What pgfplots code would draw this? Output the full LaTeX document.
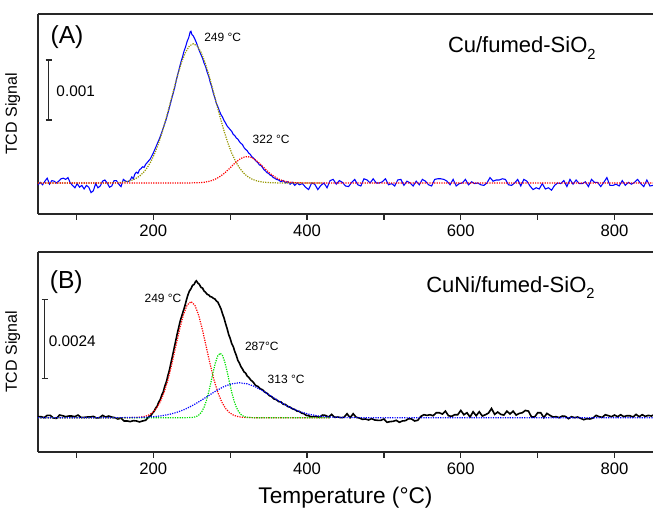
\documentclass[border=0pt]{standalone}
\usepackage{pgfplots}
\pgfplotsset{compat=1.18}
\usepackage{fontspec}
\setmainfont{Liberation Sans}
\definecolor{olivefit}{RGB}{150,150,0}
\definecolor{greenfit}{RGB}{0,225,0}
\definecolor{axgray}{RGB}{40,40,40}
\tikzset{fitline/.style={dash pattern=on 0.9pt off 0.9pt, line width=0.9pt},
small lbl/.style={anchor=west, inner sep=0pt, font=\fontsize{9}{10}\selectfont}}
\pgfplotsset{panel/.style={
  scale only axis, width=461.25pt, height=150pt,
  xmin=50, xmax=850,
  axis x line*=box, axis y line*=left,
  xtick={200,400,600,800}, minor xtick={100,300,500,700},
  xtick pos=bottom, xtick align=outside,
  major tick length=4.5pt, minor tick length=4.5pt,
  ytick=\empty,
  tick style={axgray, line width=0.9pt},
  axis line style={axgray, line width=1.1pt},
  /pgf/number format/assume math mode=true,
  ticklabel style={font=\fontsize{12.5}{13}\selectfont},
  ylabel={TCD Signal},
  ylabel style={at={(axis description cs:-0.041,0.5)}, anchor=center, font=\fontsize{12}{13}\selectfont},
}}
\begin{document}
\begin{tikzpicture}
% ---------------- Panel A ----------------
\begin{axis}[panel, at={(0pt,178.5pt)}, anchor=south west, ymin=-0.517, ymax=2.817]
\addplot[blue, line width=0.8pt] coordinates {
(50,-0.03)(53,0.01)(56,-0.03)(59,0.03)(62,0.08)(65,-0.02)(68,0.04)(71,0.03)(74,0.00)(77,0.03)
(80,0.07)(83,0.08)(86,0.06)(89,0.09)(92,0.00)(95,-0.04)(98,-0.08)(101,-0.01)(104,-0.07)(107,-0.04)
(110,-0.10)(113,-0.04)(116,-0.07)(119,-0.16)(122,-0.13)(125,-0.01)(128,-0.08)(131,-0.05)(134,0.03)(137,0.05)
(140,0.00)(143,-0.07)(146,-0.05)(149,0.04)(152,0.04)(155,-0.02)(158,-0.06)(161,0.06)(164,0.03)
(167,0.02)(170,0.05)(172,0.10)(174,0.07)(176,0.15)(178,0.18)(180,0.16)(182,0.22)(184,0.24)(186,0.27)
(188,0.26)(190,0.31)(192,0.34)(194,0.37)(196,0.40)(198,0.45)(200,0.50)(202,0.56)(204,0.62)(206,0.68)
(208,0.74)(210,0.81)(212,0.88)(214,0.96)(216,1.03)(218,1.12)(220,1.21)(222,1.31)(224,1.41)(226,1.50)
(228,1.60)(230,1.72)(232,1.82)(234,1.92)(236,2.02)(238,2.10)(240,2.20)(242,2.27)(244,2.36)(246,2.42)
(248,2.52)(249,2.53)(250,2.48)(252,2.45)(254,2.40)(256,2.34)(258,2.27)(260,2.20)(262,2.14)(264,2.08)
(266,2.00)(268,1.94)(270,1.85)(272,1.78)(274,1.68)(276,1.60)(278,1.50)(280,1.42)(282,1.33)(284,1.27)
(286,1.20)(288,1.14)(290,1.10)(292,1.04)(294,1.00)(296,0.95)(298,0.92)(300,0.89)(302,0.86)(304,0.81)
(306,0.79)(308,0.75)(310,0.73)(312,0.69)(314,0.66)(316,0.64)(318,0.59)(320,0.56)(322,0.54)(324,0.50)
(326,0.48)(328,0.44)(330,0.42)(332,0.39)(334,0.36)(336,0.34)(338,0.30)(340,0.29)(342,0.26)(344,0.22)
(346,0.20)(348,0.17)(350,0.16)(352,0.13)(354,0.12)(356,0.09)(358,0.08)(360,0.06)(363,0.05)(366,0.02)
(369,0.04)(372,0.00)(375,0.02)(378,-0.02)(381,0.01)(384,-0.04)(387,0.00)(390,-0.03)
(394,-0.01)(398,-0.07)(402,-0.11)(406,0.00)(410,-0.02)(414,-0.11)(418,-0.04)(422,0.00)(426,-0.08)(430,0.04)
(434,0.06)(438,-0.02)(442,0.04)(446,0.01)(450,-0.05)(454,-0.06)(458,0.01)(462,0.06)(466,-0.03)(470,-0.05)
(474,0.07)(478,0.05)(482,0.00)(486,0.07)(490,0.00)(494,0.00)(498,0.02)(502,0.07)(506,-0.03)(510,-0.01)
(514,-0.05)(518,0.05)(522,0.06)(526,-0.04)(530,0.03)(534,0.00)(538,-0.05)(542,0.03)(546,-0.03)(550,0.06)
(554,0.03)(558,-0.03)(562,-0.05)(566,0.06)(570,0.07)(574,0.07)(578,0.06)(582,0.03)(586,-0.03)(590,0.06)
(594,-0.05)(598,-0.01)(602,0.00)(606,0.06)(610,-0.03)(614,0.02)(618,-0.01)(622,0.00)(626,-0.03)(630,-0.04)
(634,0.00)(638,0.09)(642,0.03)(646,0.05)(650,0.05)(654,0.07)(658,0.06)(662,-0.03)(666,-0.04)(670,0.00)
(674,0.06)(678,-0.05)(682,0.06)(686,0.03)(690,-0.05)(694,-0.11)(698,-0.08)(702,-0.10)(706,-0.01)(710,-0.10)
(714,-0.08)(718,-0.12)(722,-0.04)(726,0.00)(730,-0.01)(734,0.04)(738,-0.06)(742,0.06)(746,-0.02)(750,0.05)
(754,-0.01)(758,-0.01)(762,0.02)(766,-0.06)(770,0.06)(774,0.01)(778,0.01)(782,-0.06)(786,0.01)(790,0.09)
(794,-0.04)(798,-0.04)(802,-0.02)(806,-0.05)(810,0.04)(814,-0.04)(818,0.01)(822,-0.02)(826,0.01)(830,0.06)
(834,-0.01)(838,-0.06)(842,0.05)(846,-0.05)(850,-0.04)};
\addplot[olivefit, fitline] coordinates {
(50,0)(142,0.001)(152,0.005)(157,0.009)(162,0.016)(167,0.027)(172,0.045)(177,0.073)(182,0.114)(187,0.172)
(192,0.253)(197,0.360)(202,0.498)(207,0.667)(212,0.866)(217,1.092)(222,1.333)(227,1.579)(232,1.814)(237,2.020)
(242,2.182)(247,2.285)(252,2.320)(257,2.285)(262,2.182)(267,2.020)(272,1.814)(277,1.579)(282,1.333)(287,1.092)
(292,0.866)(297,0.667)(302,0.498)(307,0.360)(312,0.253)(317,0.172)(322,0.114)(327,0.073)(332,0.045)(337,0.027)
(342,0.016)(347,0.009)(352,0.005)(362,0.001)(420,0)};
\addplot[red, fitline] coordinates {
(50,0)(242,0)(252,0.002)(257,0.004)(262,0.007)(267,0.014)(272,0.026)(277,0.044)(282,0.072)(287,0.110)
(292,0.158)(297,0.216)(302,0.279)(307,0.341)(312,0.393)(317,0.428)(322,0.440)(327,0.428)(332,0.393)(337,0.341)
(342,0.279)(347,0.216)(352,0.158)(357,0.110)(362,0.072)(367,0.044)(372,0.026)(377,0.014)(382,0.007)(387,0.004)
(392,0.002)(402,0)(850,0)};
% scale bar
\addplot[axgray, line width=0.9pt] coordinates {(64.1,1.05)(64.1,2.05)};
\addplot[axgray, line width=0.9pt] coordinates {(60,1.05)(68.2,1.05)};
\addplot[axgray, line width=0.9pt] coordinates {(60,2.05)(68.2,2.05)};
\node[anchor=west, inner sep=0pt, font=\fontsize{11.5}{12}\selectfont] at (axis cs:73.7,1.53) {0.001};
\node[anchor=west, inner sep=0pt, font=\fontsize{18.5}{19}\selectfont] at (axis cs:66,2.43) {(A)};
\node[small lbl] at (axis cs:266,2.43) {249 °C};
\node[small lbl] at (axis cs:329,0.72) {322 °C};
\node[anchor=base west, inner sep=0pt, font=\fontsize{16.5}{17}\selectfont] at (axis cs:583,2.17) {Cu/fumed-SiO\raisebox{-0.3em}{\fontsize{11}{11}\selectfont 2}};
\end{axis}
% ---------------- Panel B ----------------
\begin{axis}[panel, at={(0pt,0pt)}, anchor=south west, ymin=-1.043, ymax=5.036,
  xlabel={Temperature (°C)},
  xlabel style={at={(axis description cs:0.5,-0.228)}, anchor=center, font=\fontsize{17}{18}\selectfont}]
\addplot[black, line width=1.2pt] coordinates {
(50,0.03)(54,0.03)(58,0.00)(62,0.07)(66,0.07)(70,-0.01)(74,-0.02)(78,0.08)(82,0.06)(86,0.03)
(90,0.05)(94,0.05)(98,0.03)(102,0.08)(106,0.01)(110,0.01)(114,0.02)(118,0.02)(122,0.04)(126,-0.01)
(130,0.00)(134,0.07)(138,0.02)(142,0.05)(146,0.02)(150,0.00)(154,-0.04)(158,-0.01)(162,-0.10)(166,-0.10)
(170,-0.12)(174,-0.09)(178,-0.10)(182,-0.13)(186,-0.10)(190,-0.08)
(193,0.00)(195,0.04)(197,0.07)(199,0.14)(201,0.19)(203,0.29)(205,0.35)(207,0.47)(209,0.55)(211,0.69)
(213,0.79)(215,0.96)(217,1.09)(219,1.28)(221,1.45)(223,1.67)(225,1.88)(227,2.10)(229,2.32)(231,2.54)
(233,2.74)(235,2.94)(237,3.09)(239,3.24)(241,3.39)(243,3.57)(245,3.73)(247,3.85)(249,3.92)(251,4.02)
(253,4.05)(255,4.14)(256,4.16)(258,4.09)(260,4.05)(262,3.96)(264,3.94)(266,3.85)(268,3.81)(270,3.75)
(272,3.73)(274,3.68)(276,3.67)(278,3.63)(280,3.61)(282,3.55)(284,3.51)(286,3.41)(288,3.31)(290,3.16)
(292,3.03)(294,2.86)(296,2.71)(298,2.53)(300,2.41)(302,2.25)(304,2.16)(306,2.01)(308,1.89)(310,1.74)
(312,1.66)(314,1.55)(316,1.48)(318,1.39)(320,1.36)(322,1.27)(324,1.23)(327,1.14)(330,1.08)(333,0.98)
(336,0.95)(339,0.88)(342,0.85)(345,0.78)(348,0.74)(351,0.67)(354,0.64)(357,0.57)(360,0.55)(363,0.49)
(366,0.48)(369,0.41)(372,0.40)(375,0.34)(378,0.32)(381,0.27)(384,0.25)(387,0.20)(390,0.19)(393,0.14)
(396,0.12)(399,0.07)(402,0.06)(405,0.03)(408,0.03)
(412,0.04)(416,0.01)(420,0.08)(424,0.07)(428,0.02)(432,0.10)(436,0.01)(440,0.02)(444,0.00)(448,0.01)
(452,0.12)(456,0.00)(460,0.12)(464,0.01)(468,-0.01)(472,-0.05)(476,-0.04)(480,-0.07)(484,-0.03)(488,-0.07)
(492,-0.08)(496,-0.08)(500,-0.04)(504,-0.14)(508,-0.12)(512,-0.11)(516,-0.08)(520,-0.14)(524,-0.10)(528,-0.09)
(532,-0.03)(536,-0.04)(540,-0.10)(544,-0.08)(548,0.04)(552,0.09)(556,0.07)(560,0.09)(564,0.06)(568,0.15)
(572,0.15)(576,0.11)(580,0.20)(584,0.06)(588,0.04)(592,0.09)(596,0.09)(600,0.22)(604,0.09)(608,0.15)
(612,0.02)(616,0.18)(620,0.06)(624,0.18)(628,0.05)(632,0.09)(636,0.14)(640,0.28)(644,0.10)(648,0.17)
(652,0.10)(656,0.08)(660,0.20)(664,0.11)(668,0.20)(672,0.08)(676,0.13)(680,0.15)(684,0.22)(688,0.20)
(692,0.02)(696,0.02)(700,0.15)(704,0.15)(708,0.00)(712,0.13)(716,0.07)(720,0.02)(724,0.03)(728,0.00)
(732,0.05)(736,0.04)(740,-0.03)(744,0.03)(748,0.00)(752,0.02)(756,-0.02)(760,-0.06)(764,-0.03)(768,-0.04)
(772,-0.01)(776,0.07)(780,0.03)(784,0.01)(788,0.09)(792,0.06)(796,0.03)(800,0.08)(804,0.03)(808,0.09)
(812,0.03)(816,0.06)(820,0.06)(824,0.02)(828,0.10)(832,0.03)(836,0.09)(840,0.04)(844,0.07)(848,0.05)(850,0.08)};
\addplot[red, fitline] coordinates {
(50,0)(169,0.001)(179,0.008)(184,0.018)(189,0.039)(194,0.080)(199,0.155)(204,0.281)(209,0.478)(214,0.764)
(219,1.146)(224,1.616)(229,2.141)(234,2.664)(239,3.115)(244,3.421)(249,3.530)(254,3.421)(259,3.115)(264,2.664)
(269,2.141)(274,1.616)(279,1.146)(284,0.764)(289,0.478)(294,0.281)(299,0.155)(304,0.080)(309,0.039)(314,0.018)
(319,0.008)(329,0.001)(430,0)};
\addplot[greenfit, fitline] coordinates {
(50,0)(242,0)(247,0.003)(251,0.009)(254,0.022)(257,0.048)(260,0.096)(263,0.181)(266,0.317)(269,0.514)
(272,0.774)(275,1.081)(278,1.403)(281,1.690)(284,1.888)(287,1.960)(290,1.888)(293,1.690)(296,1.403)(299,1.081)
(302,0.774)(305,0.514)(308,0.317)(311,0.181)(314,0.096)(317,0.048)(320,0.022)(323,0.009)(327,0.003)(332,0)(430,0)};
\addplot[blue, fitline] coordinates {
(50,0)(152,0.001)(172,0.004)(182,0.009)(192,0.018)(202,0.034)(212,0.062)(222,0.107)(232,0.173)(242,0.264)
(252,0.382)(262,0.522)(272,0.673)(282,0.822)(292,0.947)(302,1.030)(312,1.060)(322,1.030)(332,0.947)(342,0.822)
(352,0.673)(362,0.522)(372,0.382)(382,0.264)(392,0.173)(402,0.107)(412,0.062)(422,0.034)(432,0.018)(442,0.009)
(452,0.004)(472,0.001)(850,0)};
% scale bar
\addplot[axgray, line width=0.9pt] coordinates {(58.9,1.2)(58.9,3.6)};
\addplot[axgray, line width=0.9pt] coordinates {(54.8,1.2)(63,1.2)};
\addplot[axgray, line width=0.9pt] coordinates {(54.8,3.6)(63,3.6)};
\node[anchor=west, inner sep=0pt, font=\fontsize{11.5}{12}\selectfont] at (axis cs:63.7,2.31) {0.0024};
\node[anchor=west, inner sep=0pt, font=\fontsize{18.5}{19}\selectfont] at (axis cs:65,4.12) {(B)};
\node[small lbl] at (axis cs:188.3,3.63) {249 °C};
\node[small lbl] at (axis cs:319,2.16) {287°C};
\node[small lbl] at (axis cs:348.4,1.15) {313 °C};
\node[anchor=base west, inner sep=0pt, font=\fontsize{16.5}{17}\selectfont] at (axis cs:554.7,3.81) {CuNi/fumed-SiO\raisebox{-0.3em}{\fontsize{11}{11}\selectfont 2}};
\end{axis}
\pgfresetboundingbox
\path[use as bounding box] (-28.5pt,-43.5pt) rectangle (461.25pt,339pt);
\end{tikzpicture}
\end{document}
